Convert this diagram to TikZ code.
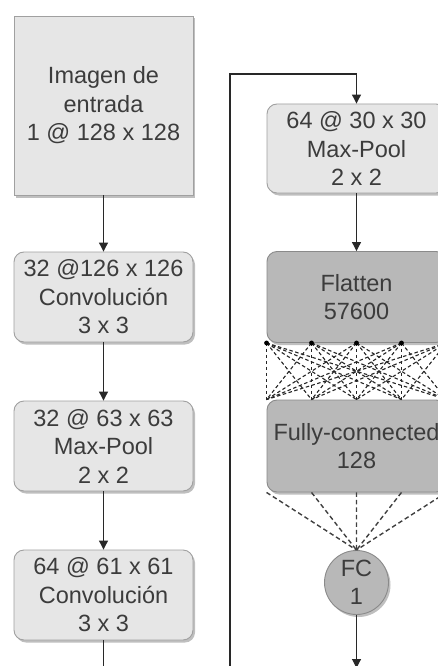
\documentclass[tikz,border=0pt]{standalone}
\usepackage{fontspec}
\setmainfont{Liberation Sans}
\usetikzlibrary{shadows,arrows.meta,calc}
\definecolor{lightfill}{RGB}{230,230,230}
\definecolor{lightline}{RGB}{160,160,160}
\definecolor{darkfill}{RGB}{184,184,184}
\definecolor{darkline}{RGB}{138,138,138}
\definecolor{txt}{RGB}{60,60,60}
\definecolor{wire}{RGB}{40,40,40}
\begin{document}
\begin{tikzpicture}[x=1pt,y=-1pt,
  base/.style={align=center,text=txt,font=\fontsize{23.5}{28.5}\selectfont,
    minimum width=179pt,inner sep=0pt,line width=0.9pt,
    drop shadow={shadow xshift=2pt,shadow yshift=-2.5pt,fill=black,opacity=0.25}},
  lightbox/.style={base,draw=lightline,fill=lightfill,rounded corners=10pt,minimum height=90pt},
  inbox/.style={base,draw=lightline,fill=lightfill,minimum height=179pt},
  darkbox/.style={base,draw=darkline,fill=darkfill,rounded corners=10pt,minimum height=91pt},
  circ/.style={base,circle,draw=darkline,fill=darkfill,minimum width=64pt},
  link/.style={draw=wire,line width=1.1pt,-{Triangle[length=9pt,width=9pt]}},
  plain/.style={draw=wire,line width=1.1pt},
  mesh/.style={draw=black!85,line width=1.1pt,dash pattern=on 3.5pt off 2.5pt},
  fan/.style={draw=black!75,line width=1.4pt,dash pattern=on 4.5pt off 3pt}
]
\useasboundingbox[fill=white] (0,0) rectangle (438,666);
% left column
\node[inbox] (in) at (103.5,105.5) {Imagen de\\entrada\\1 @ 128 x 128};
\node[lightbox] (c1) at (103.5,297) {32 @126 x 126\\Convolución\\3 x 3};
\node[lightbox] (p1) at (103.5,446) {32 @ 63 x 63\\Max-Pool\\2 x 2};
\node[lightbox] (c2) at (103.5,595) {64 @ 61 x 61\\Convolución\\3 x 3};
% right column
\node[lightbox,minimum height=89pt] (p2) at (356.5,148.5) {64 @ 30 x 30\\Max-Pool\\2 x 2};
\node[darkbox] (fl) at (356.5,297) {Flatten\\57600};
\node[darkbox,minimum height=92pt] (fc) at (356.5,446) {Fully-connected\\128};
\node[circ] (out) at (356.5,582.5) {FC\\1};
% connectors
\draw[link] (in) -- (c1);
\draw[link] (c1) -- (p1);
\draw[link] (p1) -- (c2);
\coordinate (c2end) at (103.5,667);
\draw[plain] (c2) -- (c2end);
\coordinate (loopstart) at (230,667);
\coordinate (looptop) at (230,74);
\draw[link] (loopstart) -- (looptop) -| (p2.north);
\draw[link] (p2) -- (fl);
\coordinate (outend) at (356.5,668);
\draw[link] (out) -- (outend);
% full mesh between flatten and fully-connected
\foreach \i in {0,...,4}{
  \coordinate (t\i) at ($(fl.south west)!{\i/4}!(fl.south east)$);
  \coordinate (b\i) at ($(fc.north west)!{\i/4}!(fc.north east)$);
  \coordinate (f\i) at ($(fc.south west)!{\i/4}!(fc.south east)$);
}
\foreach \i in {0,...,4}{
  \foreach \j in {0,...,4}{
    \draw[mesh] (t\i) -- (b\j);
  }
  \fill[black] (t\i) circle (2.4pt);
}
% fan into output
\foreach \i in {0,...,4}{
  \draw[fan] (f\i) -- (out.north);
}
\end{tikzpicture}
\end{document}
